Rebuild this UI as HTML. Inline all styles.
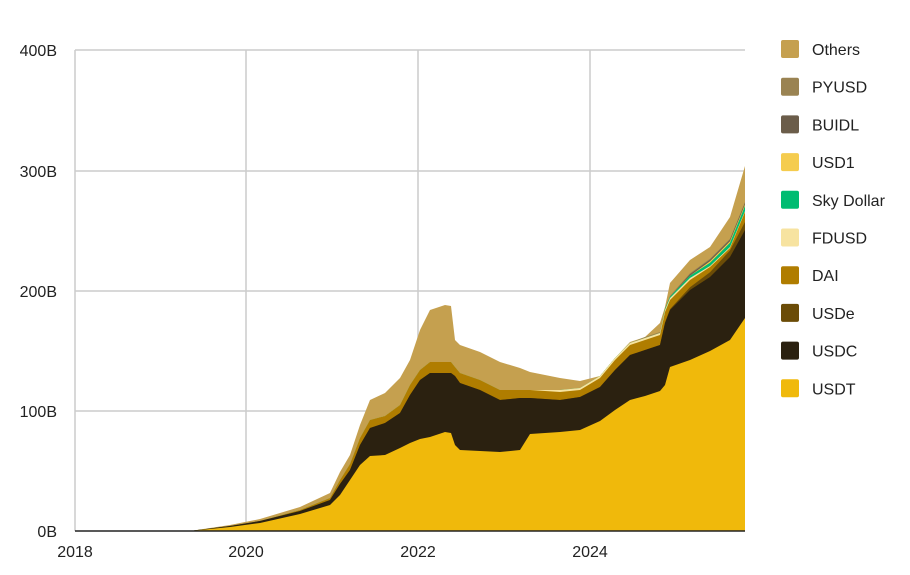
<!DOCTYPE html>
<html><head><meta charset="utf-8"><style>
body{margin:0;background:#fff;}
svg text{font-family:"Liberation Sans",Arial,sans-serif;font-size:16px;fill:#222;}
</style></head><body>
<svg id="s" width="910" height="570" xmlns="http://www.w3.org/2000/svg">
<rect width="910" height="570" fill="#fff"/>
<g stroke="#ccc" stroke-width="1.5">
<line x1="75" y1="50" x2="745" y2="50"/><line x1="75" y1="171" x2="745" y2="171"/>
<line x1="75" y1="291" x2="745" y2="291"/><line x1="75" y1="411" x2="745" y2="411"/>
<line x1="75" y1="50" x2="75" y2="531"/><line x1="246" y1="50" x2="246" y2="531"/>
<line x1="418" y1="50" x2="418" y2="531"/><line x1="590" y1="50" x2="590" y2="531"/>
</g>
<g id="areas"></g>
<line x1="75" y1="531" x2="745" y2="531" stroke="#222" stroke-width="1.5"/>
<g text-anchor="end">
<text x="57" y="56">400B</text><text x="57" y="177">300B</text><text x="57" y="297">200B</text>
<text x="57" y="417">100B</text><text x="57" y="537">0B</text></g>
<g text-anchor="middle">
<text x="75" y="557">2018</text><text x="246" y="557">2020</text><text x="418" y="557">2022</text><text x="590" y="557">2024</text></g>
<g id="leg"></g>
</svg>
<script>
var X=[75,190,230,260,300,330,340,350,360,370,385,400,410,420,430,445,451,455,460,480,500,520,530,560,580,600,615,630,645,660,665,670,690,710,730,745];
var USDT=[531,531,527,523,514,505,495,480,465,456,455,448,443,439,437,432,433,445,450,451,452,450,434,432,430,421,410,400,396,391,385,367,360,351,340,318];
var USDC=[531,531,526,521,511,500,484,470,445,428,423,413,395,380,373,373,373,376,383,390,400,398,398,400,397,387,370,355,350,345,323,310,290,277,257,230];
var DAI=[531,531,526,521,510,498,480,464,438,420,416,405,385,370,362,362,362,367,373,380,390,390,390,392,390,378,360,345,340,335,312,300,280,267,248,212];
var OTH=[531,531,525,519,507,493,472,455,425,400,393,378,360,330,310,305,306,340,345,352,362,368,372,378,381,378,362,342,337,323,307,283,260,247,217,166];
var n=X.length,L=[];
var usdt=USDT.slice(),usdc=[],usde=[],dai=[],fd=[],sky=[],u1=[],bu=[],py=[],ot=[];
for(var i=0;i<n;i++){var x=X[i];
 usdc[i]=Math.min(USDC[i],usdt[i]);
 var de=x>=660?(x-660)/85*8:0;
 usde[i]=usdc[i]-de;
 dai[i]=Math.min(DAI[i],usde[i]);
 fd[i]=dai[i]-(x>=560&&x<700?2:(x>=700?1:0));
 sky[i]=fd[i]-(x>=665?1+(x-665)/80*4:0);
 u1[i]=sky[i]-(x>=700?1.5:0);
 bu[i]=u1[i]-(x>=680?1.5:0);
 py[i]=bu[i]-(x>=640?1:0);
 ot[i]=Math.min(OTH[i],py[i]);
}
var layers=[[ot,"#C5A04F"],[py,"#9A8352"],[bu,"#6B5D4A"],[u1,"#F5CC4E"],[sky,"#00BC72"],[fd,"#F7E3A0"],[dai,"#B07D00"],[usde,"#6B4C07"],[usdc,"#2B2110"],[usdt,"#F0B90B"]];
var g=document.getElementById("areas"),h="";
layers.forEach(function(l){var d="M75 531";for(var i=0;i<n;i++)d+=" L"+X[i]+" "+l[0][i].toFixed(1);d+=" L745 531Z";h+='<path d="'+d+'" fill="'+l[1]+'"/>';});
g.innerHTML=h;
var names=["Others","PYUSD","BUIDL","USD1","Sky Dollar","FDUSD","DAI","USDe","USDC","USDT"];
var cols=["#C5A04F","#9A8352","#6B5D4A","#F5CC4E","#00BC72","#F7E3A0","#B07D00","#6B4C07","#2B2110","#F0B90B"];
var lh="";
for(var k=0;k<10;k++){var y=49+k*37.7;lh+='<rect x="781" y="'+(y-9)+'" width="18" height="18" rx="2" fill="'+cols[k]+'"/><text x="812" y="'+(y+6)+'">'+names[k]+'</text>';}
document.getElementById("leg").innerHTML=lh;
</script>
</body></html>
